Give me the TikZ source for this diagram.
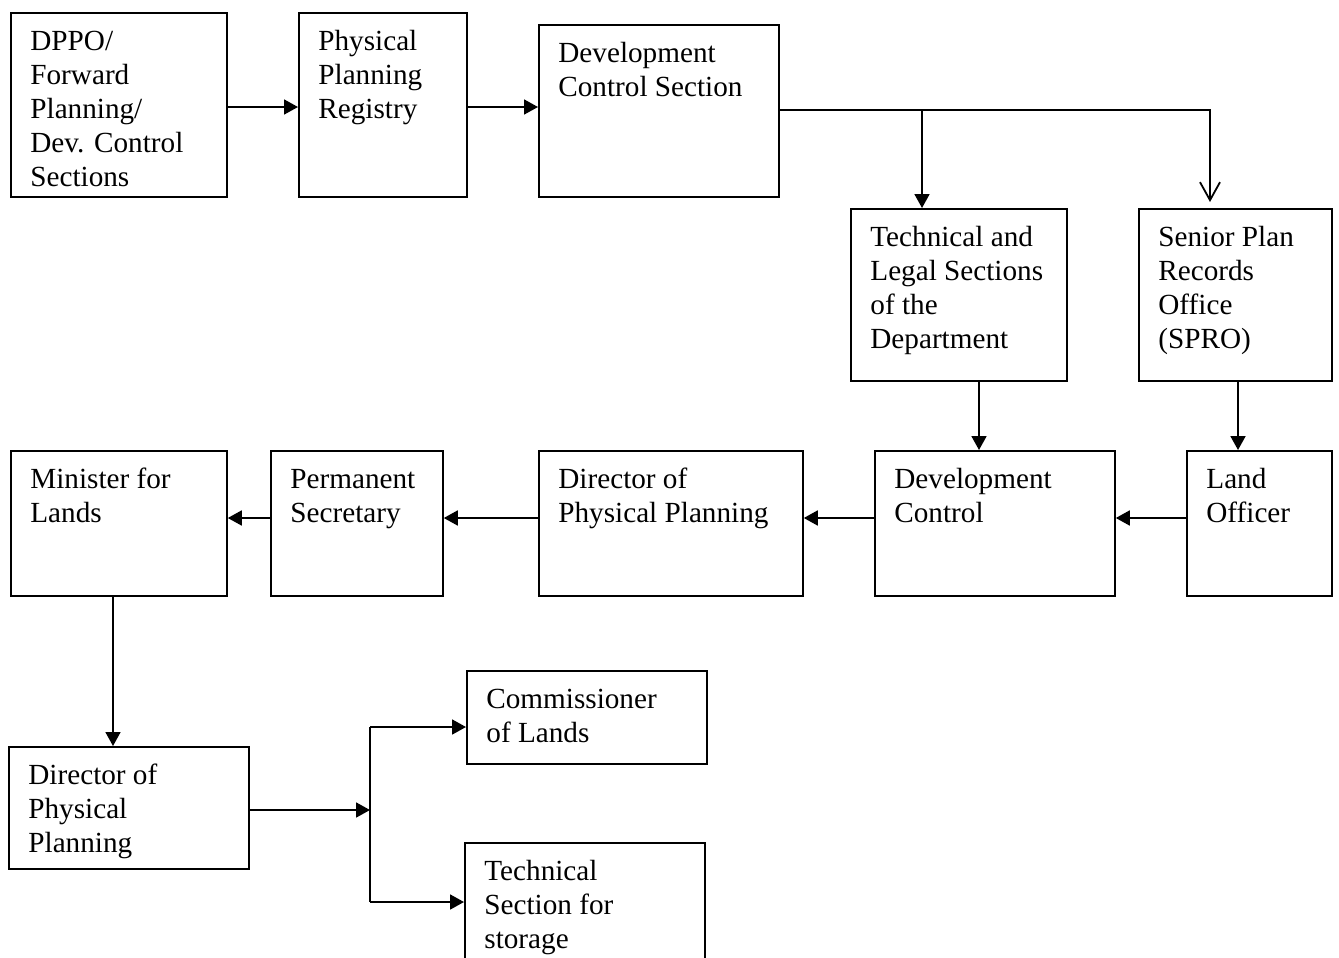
\documentclass[tikz,border=0pt]{standalone}
\usepackage{fontspec}
\setmainfont{Liberation Serif}
\usetikzlibrary{arrows.meta}
\begin{document}
\begin{tikzpicture}[x=0.5pt,y=-0.5pt,
  box/.style={draw,line width=0.9pt,rectangle,inner sep=0pt,anchor=north west},
  txt/.style={anchor=north west,inner sep=0pt,align=left,font=\fontsize{14.6pt}{17pt}\selectfont},
  arr/.style={line width=0.9pt,-{Triangle[length=7pt,width=7.5pt]}},
  oarr/.style={line width=0.9pt,-{Straight Barb[length=9pt,width=10pt,line width=0.9pt]}},
  ln/.style={line width=0.9pt}]
\useasboundingbox (0,0) rectangle (1339,958);
\newcommand{\mybox}[6]{%
  \node[box,minimum width=#4*0.5pt,minimum height=#5*0.5pt] (#1) at (#2,#3) {};
  \node[txt] (#1t) at ([xshift=10pt,yshift=-7pt]#1.north west) {\strut#6};}
% row 1
\mybox{dppo}{10}{12}{216}{184}{DPPO/\\Forward\\Planning/\\Dev. Control\\Sections}
\mybox{reg}{298}{12}{168}{184}{Physical\\Planning\\Registry}
\mybox{dcs}{538}{24}{240}{172}{Development\\Control Section}
\mybox{tech}{850}{208}{216}{172}{Technical and\\Legal Sections\\of the\\Department}
\mybox{spro}{1138}{208}{193}{172}{Senior Plan\\Records\\Office\\(SPRO)}
% row 2
\mybox{min}{10}{450}{216}{145}{Minister for\\Lands}
\mybox{perm}{270}{450}{172}{145}{Permanent\\Secretary}
\mybox{dir}{538}{450}{264}{145}{Director of\\Physical Planning}
\mybox{devc}{874}{450}{240}{145}{Development\\Control}
\mybox{land}{1186}{450}{145}{145}{Land\\Officer}
% row 3
\mybox{dirb}{8}{746}{240}{122}{Director of\\Physical\\Planning}
\mybox{com}{466}{670}{240}{93}{Commissioner\\of Lands}
\mybox{stor}{464}{842}{240}{140}{Technical\\Section for\\storage}
% coordinates
\coordinate (y107) at (0,107);
\coordinate (y518) at (0,518);
\coordinate (j1) at (922,110);
\coordinate (sprotop) at (1210,202);
\coordinate (x979) at (979,0);
\coordinate (x1238) at (1238,0);
\coordinate (x113) at (113,0);
\coordinate (jn) at (370,810);
\coordinate (jt) at (370,727);
\coordinate (jb) at (370,902);
% connectors
\draw[arr] (dppo.east |- y107) -- (reg.west |- y107);
\draw[arr] (reg.east |- y107) -- (dcs.west |- y107);
\draw[oarr] (dcs.east |- j1) -| (sprotop);
\draw[arr] (j1) -- (j1 |- tech.north);
\draw[arr] (x979 |- tech.south) -- (x979 |- devc.north);
\draw[arr] (x1238 |- spro.south) -- (x1238 |- land.north);
\draw[arr] (land.west |- y518) -- (devc.east |- y518);
\draw[arr] (devc.west |- y518) -- (dir.east |- y518);
\draw[arr] (dir.west |- y518) -- (perm.east |- y518);
\draw[arr] (perm.west |- y518) -- (min.east |- y518);
\draw[arr] (x113 |- min.south) -- (x113 |- dirb.north);
\draw[arr] (dirb.east |- jn) -- (jn);
\draw[ln] (jt) -- (jb);
\draw[arr] (jt) -- (jt -| com.west);
\draw[arr] (jb) -- (jb -| stor.west);
\end{tikzpicture}
\end{document}
